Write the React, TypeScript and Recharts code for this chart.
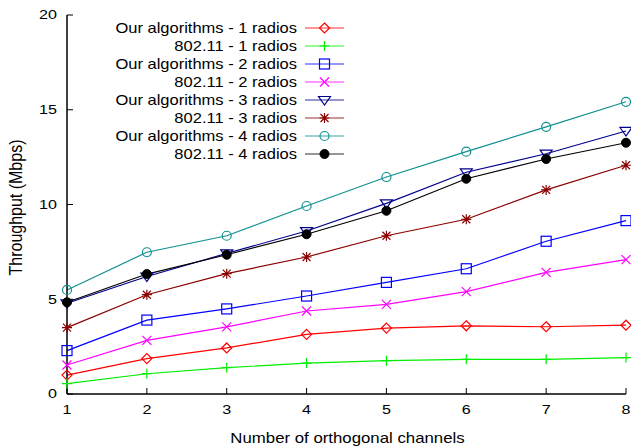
import { LineChart, Line, XAxis, YAxis, Legend } from 'recharts';

const channels = [1, 2, 3, 4, 5, 6, 7, 8];
const ourAlg1 = [1.0, 1.87, 2.43, 3.15, 3.48, 3.6, 3.55, 3.63];
const dot11_1 = [0.55, 1.07, 1.39, 1.63, 1.76, 1.83, 1.83, 1.92];
const ourAlg2 = [2.29, 3.9, 4.49, 5.17, 5.89, 6.61, 8.06, 9.15];
const dot11_2 = [1.53, 2.83, 3.54, 4.38, 4.73, 5.4, 6.42, 7.09];
const ourAlg3 = [4.79, 6.2, 7.42, 8.6, 10.06, 11.7, 12.68, 13.88];
const dot11_3 = [3.5, 5.24, 6.35, 7.23, 8.35, 9.22, 10.77, 12.07];
const ourAlg4 = [5.49, 7.48, 8.35, 9.92, 11.45, 12.79, 14.1, 15.42];
const dot11_4 = [4.84, 6.33, 7.35, 8.43, 9.67, 11.36, 12.4, 13.26];
const yTicks = [0, 5, 10, 15, 20];

const data = channels.map((c, i) => ({
  channels: c,
  our1: ourAlg1[i],
  w1: dot11_1[i],
  our2: ourAlg2[i],
  w2: dot11_2[i],
  our3: ourAlg3[i],
  w3: dot11_3[i],
  our4: ourAlg4[i],
  w4: dot11_4[i],
}));

type Shape = 'diamond' | 'plus' | 'square' | 'cross' | 'triDown' | 'star' | 'circle' | 'disc';

const series: { key: string; name: string; color: string; shape: Shape }[] = [
  { key: 'our1', name: 'Our algorithms - 1 radios', color: '#ff0000', shape: 'diamond' },
  { key: 'w1', name: '802.11 - 1 radios', color: '#00ee00', shape: 'plus' },
  { key: 'our2', name: 'Our algorithms - 2 radios', color: '#0000ff', shape: 'square' },
  { key: 'w2', name: '802.11 - 2 radios', color: '#ff00ff', shape: 'cross' },
  { key: 'our3', name: 'Our algorithms - 3 radios', color: '#00008b', shape: 'triDown' },
  { key: 'w3', name: '802.11 - 3 radios', color: '#8b0000', shape: 'star' },
  { key: 'our4', name: 'Our algorithms - 4 radios', color: '#109090', shape: 'circle' },
  { key: 'w4', name: '802.11 - 4 radios', color: '#000000', shape: 'disc' },
];

const font = '"Liberation Sans", Arial, sans-serif';
// the source image is stretched sideways, so text gets a horizontal scale
const stretch = 1.2;

const Marker = ({ cx, cy, shape, color }: { cx: number; cy: number; shape: Shape; color: string }) => {
  const s = { stroke: color, strokeWidth: 1.2, fill: 'none' };
  switch (shape) {
    case 'diamond':
      return <polygon points={`${cx},${cy - 5} ${cx + 5},${cy} ${cx},${cy + 5} ${cx - 5},${cy}`} {...s} />;
    case 'plus':
      return <path d={`M${cx - 5},${cy}H${cx + 5}M${cx},${cy - 5}V${cy + 5}`} {...s} />;
    case 'square':
      return <rect x={cx - 5} y={cy - 5} width={10} height={10} {...s} />;
    case 'cross':
      return <path d={`M${cx - 4.5},${cy - 4.5}L${cx + 4.5},${cy + 4.5}M${cx - 4.5},${cy + 4.5}L${cx + 4.5},${cy - 4.5}`} {...s} />;
    case 'triDown':
      return <polygon points={`${cx - 6},${cy - 3.5} ${cx + 6},${cy - 3.5} ${cx},${cy + 5}`} {...s} />;
    case 'star':
      return (
        <path
          d={`M${cx - 5},${cy}H${cx + 5}M${cx},${cy - 5}V${cy + 5}M${cx - 4},${cy - 4}L${cx + 4},${cy + 4}M${cx - 4},${cy + 4}L${cx + 4},${cy - 4}`}
          {...s}
        />
      );
    case 'circle':
      return <circle cx={cx} cy={cy} r={4.5} {...s} />;
    case 'disc':
      return <circle cx={cx} cy={cy} r={4.5} fill={color} stroke={color} />;
  }
};

const LegendBox = () => (
  <svg width={350} height={150} style={{ display: 'block' }}>
    {series.map((s, i) => {
      const y = 9 + i * 18;
      return (
        <g key={s.key}>
          <text
            transform={`translate(297 ${y}) scale(1.18 1)`}
            textAnchor="end"
            dominantBaseline="central"
            fontFamily={font}
            fontSize={14}
            fill="#000"
          >
            {s.name}
          </text>
          <line x1={305} x2={344} y1={y} y2={y} stroke={s.color} strokeWidth={1.5} strokeOpacity={0.55} />
          <Marker cx={324.5} cy={y} shape={s.shape} color={s.color} />
        </g>
      );
    })}
  </svg>
);

const YTick = (props: any) => (
  <text
    transform={`translate(${props.x} ${props.y}) scale(1.24 1)`}
    textAnchor="end"
    dominantBaseline="central"
    fontFamily={font}
    fontSize={13}
    fill="#000"
  >
    {props.payload.value}
  </text>
);

const XTick = (props: any) => (
  <text
    transform={`translate(${props.x} ${props.y}) scale(1.24 1)`}
    textAnchor="middle"
    dy="0.71em"
    fontFamily={font}
    fontSize={13}
    fill="#000"
  >
    {props.payload.value}
  </text>
);

const YLabel = (props: any) => {
  const vb = props.viewBox || { x: 0, y: 15, height: 379 };
  const x = 15;
  const y = vb.y + vb.height / 2 + 3;
  return (
    <text
      transform={`translate(${x} ${y}) scale(${stretch} 1) rotate(-90)`}
      textAnchor="middle"
      dominantBaseline="central"
      fontFamily={font}
      fontSize={16}
      fill="#000"
    >
      Throughput (Mbps)
    </text>
  );
};

const XLabel = (props: any) => {
  const vb = props.viewBox || { x: 67, y: 394, width: 559 };
  const x = vb.x + vb.width / 2 + 1;
  const y = 438;
  return (
    <text
      transform={`translate(${x} ${y}) scale(${stretch} 1)`}
      textAnchor="middle"
      dominantBaseline="central"
      fontFamily={font}
      fontSize={14}
      fill="#000"
    >
      Number of orthogonal channels
    </text>
  );
};

export default function App() {
  return (
    <div style={{ position: 'absolute', left: 0, top: 0, background: '#fff' }}>
      <LineChart width={631} height={448} data={data} margin={{ top: 15, right: 5, bottom: 0, left: 0 }}>
        <XAxis
          dataKey="channels"
          type="number"
          domain={[1, 8]}
          ticks={channels}
          height={54}
          tickSize={-6}
          tickMargin={17}
          axisLine={{ stroke: '#000', strokeWidth: 1.5 }}
          tickLine={{ stroke: '#000' }}
          tick={<XTick />}
          label={{ content: XLabel }}
        />
        <XAxis
          xAxisId="top"
          dataKey="channels"
          type="number"
          orientation="top"
          domain={[1, 8]}
          ticks={channels}
          height={0}
          tickSize={-6}
          tick={false}
          axisLine={{ stroke: '#000', strokeWidth: 1.5 }}
          tickLine={{ stroke: '#000' }}
        />
        <YAxis
          type="number"
          domain={[0, 20]}
          ticks={yTicks}
          width={67}
          tickSize={-6}
          tickMargin={16}
          axisLine={{ stroke: '#000', strokeWidth: 1.5 }}
          tickLine={{ stroke: '#000' }}
          tick={<YTick />}
          label={{ content: YLabel }}
        />
        <YAxis
          yAxisId="right"
          orientation="right"
          type="number"
          domain={[0, 20]}
          ticks={yTicks}
          width={0}
          tickSize={-6}
          tick={false}
          axisLine={{ stroke: '#000', strokeWidth: 1.5 }}
          tickLine={{ stroke: '#000' }}
        />
        <Legend
          layout="vertical"
          align="center"
          verticalAlign="middle"
          wrapperStyle={{ left: 0, top: 19, width: 350 }}
          content={() => <LegendBox />}
        />
        {series.map((s) => (
          <Line
            key={s.key}
            dataKey={s.key}
            name={s.name}
            stroke={s.color}
            strokeWidth={1.2}
            isAnimationActive={false}
            dot={(p: any) => <Marker key={`${s.key}-${p.index}`} cx={p.cx} cy={p.cy} shape={s.shape} color={s.color} />}
            activeDot={false}
          />
        ))}
      </LineChart>
    </div>
  );
}
